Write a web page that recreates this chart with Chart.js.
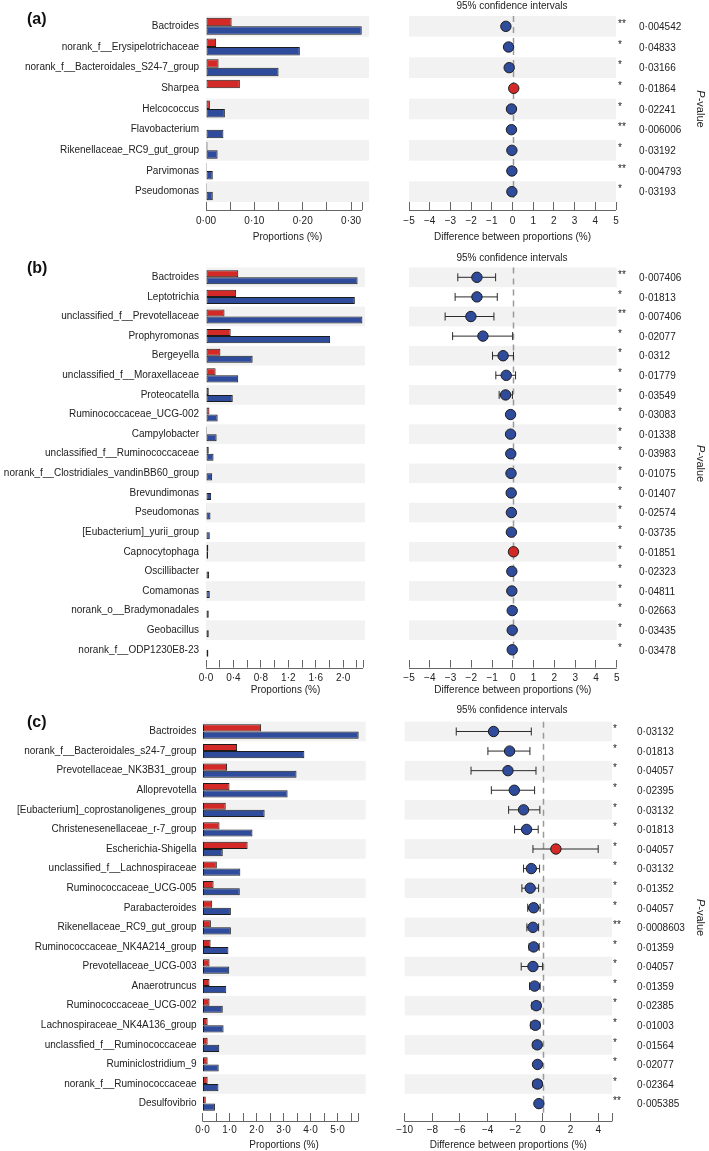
<!DOCTYPE html>
<html>
<head>
<meta charset="utf-8">
<script src="https://cdn.jsdelivr.net/npm/chart.js"></script>
<style>
  body { margin: 0; background: #fff; width: 709px; height: 1151px; position: relative; overflow: hidden; }
  .box { position: absolute; }
</style>
</head>
<body>
<div class="box" style="left:0;top:0"><canvas id="aL" width="370" height="245"></canvas></div>
<div class="box" style="left:370px;top:0"><canvas id="aR" width="339" height="245"></canvas></div>
<div class="box" style="left:0;top:247px"><canvas id="bL" width="370" height="453"></canvas></div>
<div class="box" style="left:370px;top:247px"><canvas id="bR" width="339" height="453"></canvas></div>
<div class="box" style="left:0;top:700px"><canvas id="cL" width="370" height="451"></canvas></div>
<div class="box" style="left:370px;top:700px"><canvas id="cR" width="339" height="451"></canvas></div>
<script>
// ---- panel (a)
const taxaA = ['Bactroides', 'norank_f__Erysipelotrichaceae', 'norank_f__Bacteroidales_S24-7_group', 'Sharpea',
  'Helcococcus', 'Flavobacterium', 'Rikenellaceae_RC9_gut_group', 'Parvimonas', 'Pseudomonas'];
const redA = [0.053, 0.021, 0.026, 0.070, 0.008, 0.001, 0.003, 0.002, 0.002];
const blueA = [0.322, 0.194, 0.150, 0.001, 0.039, 0.036, 0.024, 0.014, 0.014];
const diffA = [-0.32, -0.19, -0.16, 0.06, -0.05, -0.05, -0.03, -0.03, -0.03];
const lowA = [-0.48, -0.34, -0.30, 0.01, -0.09, -0.08, -0.06, -0.05, -0.05];
const highA = [-0.16, -0.04, -0.02, 0.11, -0.01, -0.02, -0.005, -0.005, -0.005];
const pA = [0.004542, 0.04833, 0.03166, 0.01864, 0.02241, 0.006006, 0.03192, 0.004793, 0.03193];
const propTicksA = [0, 0.05, 0.10, 0.15, 0.20, 0.25, 0.30, 0.323];
const propLabelsA = ['0·00', '', '0·10', '', '0·20', '', '0·30', ''];
const diffTicksA = [-5, -4, -3, -2, -1, 0, 1, 2, 3, 4, 5];
const diffLabelsA = ['−5', '−4', '−3', '−2', '−1', '0', '1', '2', '3', '4', '5'];

// ---- panel (b)
const taxaB = ['Bactroides', 'Leptotrichia', 'unclassified_f__Prevotellaceae', 'Prophyromonas', 'Bergeyella',
  'unclassified_f__Moraxellaceae', 'Proteocatella', 'Ruminococcaceae_UCG-002', 'Campylobacter',
  'unclassified_f__Ruminococcaceae', 'norank_f__Clostridiales_vandinBB60_group', 'Brevundimonas', 'Pseudomonas',
  '[Eubacterium]_yurii_group', 'Capnocytophaga', 'Oscillibacter', 'Comamonas', 'norank_o__Bradymonadales',
  'Geobacillus', 'norank_f__ODP1230E8-23'];
const redB = [0.47, 0.44, 0.27, 0.36, 0.21, 0.14, 0.04, 0.05, 0.015, 0.04, 0.01, 0.01, 0.01, 0.01, 0.034, 0.008, 0.008, 0.008, 0.008, 0.008];
const blueB = [2.21, 2.17, 2.28, 1.81, 0.68, 0.47, 0.39, 0.17, 0.155, 0.11, 0.09, 0.075, 0.065, 0.055, 0.03, 0.045, 0.055, 0.04, 0.04, 0.035];
const diffB = [-1.73, -1.73, -2.02, -1.44, -0.47, -0.32, -0.35, -0.11, -0.11, -0.10, -0.09, -0.08, -0.07, -0.07, 0.03, -0.05, -0.05, -0.03, -0.03, -0.03];
const lowB = [-2.65, -2.78, -3.26, -2.90, -0.98, -0.82, -0.66, -0.20, -0.20, -0.18, -0.18, -0.14, -0.13, -0.12, -0.02, -0.10, -0.10, -0.07, -0.07, -0.07];
const highB = [-0.83, -0.75, -0.91, -0.01, 0.03, 0.13, -0.02, -0.02, -0.02, -0.02, -0.01, -0.01, -0.01, -0.01, 0.08, -0.005, -0.005, -0.005, -0.005, -0.005];
const pB = [0.007406, 0.01813, 0.007406, 0.02077, 0.0312, 0.01779, 0.03549, 0.03083, 0.01338, 0.03983,
  0.01075, 0.01407, 0.02574, 0.03735, 0.01851, 0.02323, 0.04811, 0.02663, 0.03435, 0.03478];
const propTicksB = [0, 0.2, 0.4, 0.6, 0.8, 1.0, 1.2, 1.4, 1.6, 1.8, 2.0, 2.2, 2.29];
const propLabelsB = ['0·0', '', '0·4', '', '0·8', '', '1·2', '', '1·6', '', '2·0', '', ''];
const diffTicksB = diffTicksA;
const diffLabelsB = diffLabelsA;

// ---- panel (c)
const taxaC = ['Bactroides', 'norank_f__Bacteroidales_s24-7_group', 'Prevotellaceae_NK3B31_group', 'Alloprevotella',
  '[Eubacterium]_coprostanoligenes_group', 'Christenesenellaceae_r-7_group', 'Escherichia-Shigella',
  'unclassified_f__Lachnospiraceae', 'Ruminococcaceae_UCG-005', 'Parabacteroides', 'Rikenellaceae_RC9_gut_group',
  'Ruminococcaceae_NK4A214_group', 'Prevotellaceae_UCG-003', 'Anaerotruncus', 'Ruminococcaceae_UCG-002',
  'Lachnospiraceae_NK4A136_group', 'unclassfied_f__Ruminococcaceae', 'Ruminiclostridium_9',
  'norank_f__Ruminococcaceae', 'Desulfovibrio'];
const redC = [2.17, 1.28, 0.91, 1.00, 0.86, 0.63, 1.67, 0.53, 0.41, 0.36, 0.31, 0.30, 0.26, 0.26, 0.26, 0.19, 0.19, 0.19, 0.19, 0.12];
const blueC = [5.78, 3.77, 3.48, 3.15, 2.30, 1.85, 0.75, 1.40, 1.38, 1.05, 1.05, 0.96, 0.99, 0.88, 0.75, 0.78, 0.62, 0.60, 0.59, 0.46];
const diffC = [-3.57, -2.41, -2.53, -2.07, -1.40, -1.18, 0.94, -0.84, -0.92, -0.67, -0.72, -0.67, -0.72, -0.60, -0.48, -0.55, -0.41, -0.39, -0.39, -0.29];
const lowC = [-6.27, -3.98, -5.20, -3.73, -2.48, -2.05, -0.72, -1.40, -1.52, -1.10, -1.16, -1.00, -1.57, -0.96, -0.80, -0.87, -0.70, -0.60, -0.70, -0.45];
const highC = [-0.84, -0.94, -0.50, -0.60, -0.22, -0.34, 4.00, -0.24, -0.31, -0.20, -0.31, -0.27, -0.02, -0.20, -0.17, -0.22, -0.15, -0.18, -0.10, -0.13];
const pC = [0.03132, 0.01813, 0.04057, 0.02395, 0.03132, 0.01813, 0.04057, 0.03132, 0.01352, 0.04057,
  0.0008603, 0.01359, 0.04057, 0.01359, 0.02385, 0.01003, 0.01564, 0.02077, 0.02364, 0.005385];
const propTicksC = [0, 0.5, 1, 1.5, 2, 2.5, 3, 3.5, 4, 4.5, 5, 5.5, 5.76];
const propLabelsC = ['0·0', '', '1·0', '', '2·0', '', '3·0', '', '4·0', '', '5·0', '', ''];
const diffTicksC = [-10, -8, -6, -4, -2, 0, 2, 4, 5];
const diffLabelsC = ['−10', '−8', '−6', '−4', '−2', '0', '2', '4', ''];

const FONT = "'Liberation Sans', Arial, Helvetica, sans-serif";
const RED = '#d42a27', BLUE = '#2f4b9c', EDGE = '#1c1c1c', BAND = '#f2f2f2', AXIS = '#666', TXT = '#222';
Chart.defaults.font.family = FONT;
Chart.defaults.font.size = 10;
Chart.defaults.color = TXT;

function bands(n) {
  return {
    id: 'bands',
    beforeDatasetsDraw(chart) {
      const { ctx, chartArea: a, scales: { y } } = chart;
      const h = a.height / n;
      ctx.save();
      ctx.fillStyle = BAND;
      for (let i = 0; i < n; i += 2) {
        const c = y.getPixelForValue(i);
        ctx.fillRect(a.left, c - h / 2, a.right - a.left, h);
      }
      ctx.restore();
    }
  };
}

const baseline = {
  id: 'baseline',
  afterDraw(chart) {
    const { ctx, chartArea: a, scales: { x } } = chart;
    const t = x.ticks;
    const y0 = Math.round(a.bottom + 8) + 0.5;
    ctx.save();
    ctx.strokeStyle = AXIS;
    ctx.lineWidth = 1;
    ctx.beginPath();
    ctx.moveTo(x.getPixelForValue(t[0].value), y0);
    ctx.lineTo(x.getPixelForValue(t[t.length - 1].value), y0);
    ctx.stroke();
    ctx.restore();
  }
};

function xAxis(o, ticks, labels, title) {
  return {
    type: 'linear', min: o.min, max: o.max,
    grid: { display: true, drawOnChartArea: false, drawTicks: true, tickLength: 8, color: AXIS, lineWidth: 1 },
    border: { display: false },
    afterBuildTicks: s => { s.ticks = ticks.map(v => ({ value: v })); },
    afterFit: s => { s.height = o.axisH; },
    ticks: { autoSkip: false, maxRotation: 0, padding: o.tickPad, color: TXT, font: { size: 10 },
      callback: (v, i) => labels[i] },
    title: { display: true, text: title, color: TXT, font: { size: 10 }, padding: { top: 0, bottom: o.titlePad } }
  };
}

function barChart(id, taxa, red, blue, ticks, labels, o) {
  return new Chart(document.getElementById(id), {
    type: 'bar',
    data: {
      labels: taxa,
      datasets: [
        { data: red, backgroundColor: RED, borderColor: EDGE, borderWidth: 1, borderSkipped: false,
          categoryPercentage: o.cat, barPercentage: 1 },
        { data: blue, backgroundColor: BLUE, borderColor: EDGE, borderWidth: 1, borderSkipped: false,
          categoryPercentage: o.cat, barPercentage: 1 }
      ]
    },
    options: {
      indexAxis: 'y', responsive: false, animation: false, devicePixelRatio: 1,
      layout: { autoPadding: false, padding: { top: o.top, right: o.right, left: 0, bottom: 0 } },
      plugins: { legend: { display: false }, tooltip: { enabled: false } },
      scales: {
        y: {
          grid: { display: false, drawTicks: false }, border: { display: false },
          ticks: { autoSkip: false, padding: o.labelPad, color: TXT, font: { size: 10 } },
          afterFit: s => { s.width = o.left; }
        },
        x: xAxis(o, ticks, labels, 'Proportions (%)')
      }
    },
    plugins: [bands(taxa.length), baseline, {
      id: 'panelLabel',
      afterDraw(chart) {
        const ctx = chart.ctx;
        ctx.save();
        ctx.fillStyle = '#111';
        ctx.font = 'bold 16px ' + FONT;
        ctx.textAlign = 'left';
        ctx.textBaseline = 'middle';
        ctx.fillText(o.panel, 27, o.panelY);
        ctx.restore();
      }
    }]
  });
}

function diffChart(id, diff, low, high, pvals, ticks, labels, o) {
  const n = diff.length;
  const errorSets = low.map((l, i) => ({
    data: [{ x: l, y: i }, { x: high[i], y: i }],
    showLine: true, borderColor: '#2a2a2a', borderWidth: 1,
    pointStyle: 'line', pointRotation: 90, pointRadius: 4, pointBorderColor: '#2a2a2a', pointBorderWidth: 1
  }));
  return new Chart(document.getElementById(id), {
    type: 'scatter',
    data: {
      datasets: [{
        data: diff.map((d, i) => ({ x: d, y: i })),
        pointRadius: 5.2, pointBackgroundColor: diff.map(d => d > 0 ? RED : BLUE),
        pointBorderColor: EDGE, pointBorderWidth: 1
      }].concat(errorSets)
    },
    options: {
      responsive: false, animation: false, devicePixelRatio: 1,
      layout: { autoPadding: false, padding: { top: o.top, right: o.right, left: o.left, bottom: 0 } },
      plugins: { legend: { display: false }, tooltip: { enabled: false } },
      scales: {
        y: { type: 'linear', min: -0.5, max: n - 0.5, reverse: true, display: false },
        x: xAxis(o, ticks, labels, 'Difference between proportions (%)')
      }
    },
    plugins: [bands(n), baseline, {
      id: 'zeroLine',
      beforeDatasetsDraw(chart) {
        const { ctx, chartArea: a, scales: { x } } = chart;
        const px = Math.round(x.getPixelForValue(0)) + 0.5;
        ctx.save();
        ctx.strokeStyle = '#9a9a9a';
        ctx.lineWidth = 1.5;
        ctx.setLineDash([6, 5]);
        ctx.beginPath();
        ctx.moveTo(px, a.top);
        ctx.lineTo(px, a.bottom);
        ctx.stroke();
        ctx.restore();
      }
    }, {
      id: 'pvalues',
      afterDraw(chart) {
        const { ctx, chartArea: a, scales: { y } } = chart;
        ctx.save();
        ctx.fillStyle = TXT;
        ctx.font = '10px ' + FONT;
        ctx.textBaseline = 'middle';
        ctx.textAlign = 'center';
        ctx.fillText('95% confidence intervals', 142, o.ciY);
        ctx.textAlign = 'left';
        pvals.forEach((p, i) => {
          const c = y.getPixelForValue(i);
          ctx.fillText(p < 0.01 ? '**' : '*', o.starX, c - 2);
          ctx.fillText('0·' + String(p).slice(2), o.pX, c + 1);
        });
        // rotated axis label
        ctx.translate(330, (a.top + a.bottom) / 2);
        ctx.rotate(Math.PI / 2);
        ctx.font = 'italic 11px ' + FONT;
        const w1 = ctx.measureText('P').width;
        ctx.font = '11px ' + FONT;
        const w2 = ctx.measureText('-value').width;
        const x0 = -(w1 + w2) / 2;
        ctx.font = 'italic 11px ' + FONT;
        ctx.fillText('P', x0, 0);
        ctx.font = '11px ' + FONT;
        ctx.fillText('-value', x0 + w1, 0);
        ctx.restore();
      }
    }]
  });
}

// (a)
barChart('aL', taxaA, redA, blueA, propTicksA, propLabelsA,
  { panel: '(a)', panelY: 20, top: 16, right: 1, left: 206, labelPad: 7, cat: 0.82,
    min: 0, max: 0.337, axisH: 43, tickPad: 5, titlePad: 2 });
diffChart('aR', diffA, lowA, highA, pA, diffTicksA, diffLabelsA,
  { top: 16, left: 39, right: 93, min: -5, max: 5, axisH: 43, tickPad: 5, titlePad: 2,
    ciY: 6, starX: 248, pX: 269 });

// (b)
barChart('bL', taxaB, redB, blueB, propTicksB, propLabelsB,
  { panel: '(b)', panelY: 22, top: 20.5, right: 5, left: 206, labelPad: 7, cat: 0.72,
    min: 0, max: 2.318, axisH: 40.4, tickPad: 4.4, titlePad: 4 });
diffChart('bR', diffB, lowB, highB, pB, diffTicksB, diffLabelsB,
  { top: 20.5, left: 39, right: 92.3, min: -5, max: 5, axisH: 40.4, tickPad: 4.4, titlePad: 4,
    ciY: 11, starX: 248, pX: 269 });

// (c)
barChart('cL', taxaC, redC, blueC, propTicksC, propLabelsC,
  { panel: '(c)', panelY: 23, top: 21.7, right: 4.3, left: 202.5, labelPad: 6, cat: 0.73,
    min: 0, max: 6.04, axisH: 37.6, tickPad: 2.6, titlePad: 0 });
diffChart('cR', diffC, lowC, highC, pC, diffTicksC, diffLabelsC,
  { top: 21.7, left: 34.7, right: 97, min: -10, max: 5, axisH: 37.6, tickPad: 2.6, titlePad: 0,
    ciY: 10, starX: 243, pX: 267 });
</script>
</body>
</html>
